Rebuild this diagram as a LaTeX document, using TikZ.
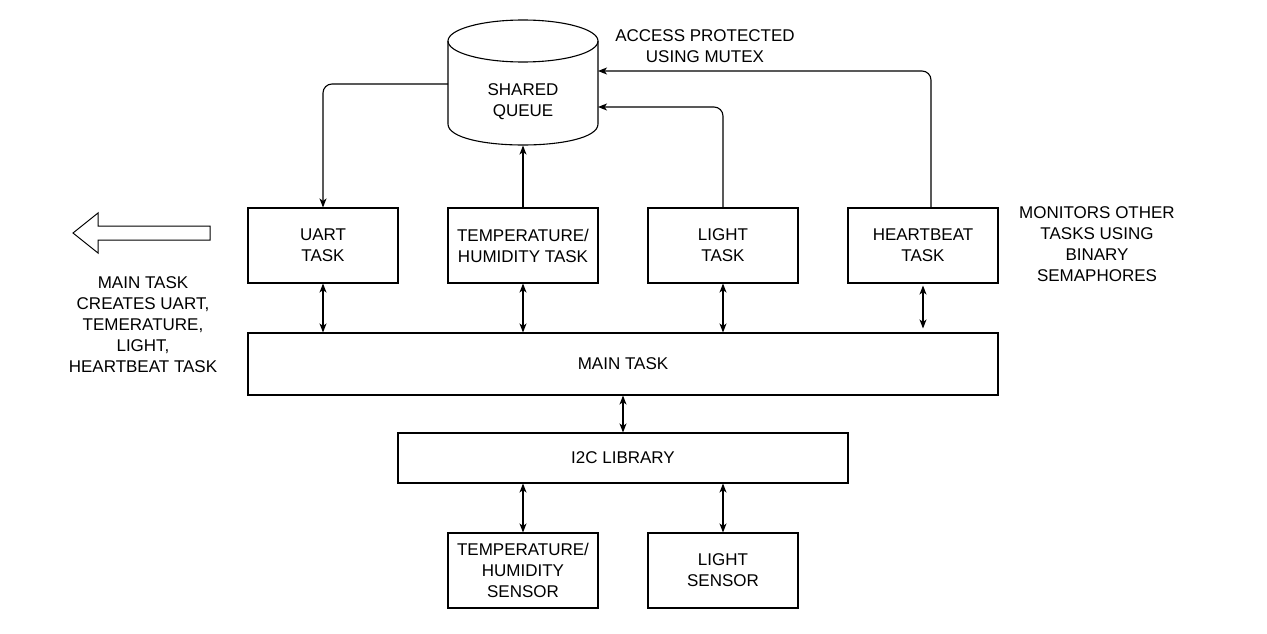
\documentclass[tikz,border=0pt]{standalone}
\usepackage{fontspec}
\setmainfont{Liberation Sans}
\usetikzlibrary{arrows.meta}
\begin{document}
\begin{tikzpicture}[x=1pt,y=-1pt,
  line width=1.1pt,
  txt/.style={font=\fontsize{17}{21}\selectfont, align=center, inner sep=0pt},
  box/.style={txt, draw, minimum width=150pt, minimum height=75pt},
  wide/.style={txt, draw, minimum height=62pt},
  conn/.style={-{Stealth[length=9pt,width=7pt,inset=2.5pt]}},
  dconn/.style={{Stealth[length=9pt,width=7pt,inset=2.5pt]}-{Stealth[length=9pt,width=7pt,inset=2.5pt]}},
  elbow/.style={rounded corners=9pt}
]
\useasboundingbox (0,0) rectangle (1267,634);

% boxes
\node[box] (uart)  at (323,245.5) {UART\\TASK};
\node[box] (tht)   at (523,245.5) {TEMPERATURE/\\HUMIDITY TASK};
\node[box] (light) at (723,245.5) {LIGHT\\TASK};
\node[box] (hb)    at (923,245.5) {HEARTBEAT\\TASK};
\node[wide, minimum width=750pt] (main) at (623,364) {MAIN TASK};
\node[wide, minimum width=450pt, minimum height=50pt] (i2c) at (623,458) {I2C LIBRARY};
\node[box] (ths) at (523,570.5) {TEMPERATURE/\\HUMIDITY\\SENSOR};
\node[box] (ls)  at (723,570.5) {LIGHT\\SENSOR};

% shared queue cylinder
\draw (448,41) -- (448,124) .. controls (448,152) and (598,152) .. (598,124) -- (598,41);
\draw (523,41) ellipse [x radius=75pt, y radius=21pt];
\node[txt, minimum width=150pt, minimum height=125pt] (cyl) at (523,82.5) {};
\node[txt] (cyltext) at (523,101.5) {SHARED\\QUEUE};
\coordinate (qL)  at (448,84);
\coordinate (qR1) at (598,107);
\coordinate (qR2) at (598,71);
\coordinate (hbtop) at (931,208);

% connectors to/from the queue
\draw[conn, elbow] (qL) -| (uart.north);
\draw[conn] (tht.north) -- (cyl.south);
\draw[conn, elbow] (light.north) |- (qR1);
\draw[conn, elbow] (hbtop) |- (qR2);

% double arrows
\draw[dconn] (uart.south) -- (uart.south |- main.north);
\draw[dconn] (tht.south) -- (tht.south |- main.north);
\draw[dconn] (light.south) -- (light.south |- main.north);
\draw[dconn] ([yshift=-2pt]hb.south) -- ([yshift=4pt]hb.south |- main.north);
\draw[dconn] (main.south) -- (i2c.north);
\draw[dconn] (ths.north |- i2c.south) -- (ths.north);
\draw[dconn] (ls.north |- i2c.south) -- (ls.north);

% hollow arrow
\draw[line width=1pt] (210,226) -- (98,226) -- (98,213) -- (73,233) -- (98,253) -- (98,240) -- (210,240) -- cycle;

% annotations
\node[txt] (acc) at (705,46.5) {ACCESS PROTECTED\\USING MUTEX};
\node[txt] (mon) at (1097,244) {MONITORS OTHER\\TASKS USING\\BINARY\\SEMAPHORES};
\node[txt] (mt)  at (143,324.5) {MAIN TASK\\CREATES UART,\\TEMERATURE,\\LIGHT,\\HEARTBEAT TASK};
\end{tikzpicture}
\end{document}
